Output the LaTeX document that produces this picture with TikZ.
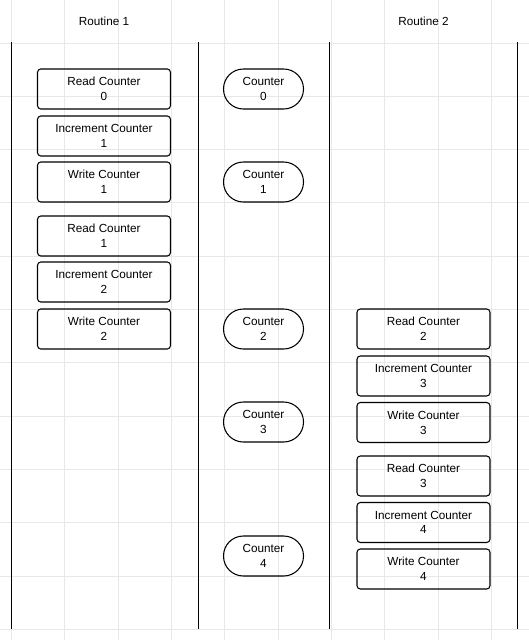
\documentclass[tikz,border=0pt]{standalone}
\usepackage{fontspec}
\setmainfont{Liberation Sans}
\usepackage{xcolor}
\usetikzlibrary{positioning}
\definecolor{gridgray}{HTML}{E8E8E8}
\tikzset{
  opbox/.style={draw, line width=0.8pt, rounded corners=2.5pt, align=center,
    minimum width=99.75pt, minimum height=30pt, inner sep=0pt,
    font=\fontsize{8.8}{11}\selectfont},
  valpill/.style={draw, line width=0.8pt, rounded corners=14.9pt, align=center,
    minimum width=60pt, minimum height=30pt, inner sep=0pt,
    font=\fontsize{8.8}{11}\selectfont},
  lane/.style={line width=1pt}
}
\begin{document}
\begin{tikzpicture}[x=0.75pt, y=-0.75pt]
			\useasboundingbox[fill=white] (0,0) rectangle (529,640);
			% grid
			\foreach \gx in {0,...,9}
				\draw[gridgray, line width=0.75pt] ({11.5+53.33*\gx},0) -- ({11.5+53.33*\gx},640);
			\foreach \gy in {0,...,11}
				\draw[gridgray, line width=0.75pt] (0,{43+53.33*\gy}) -- (529,{43+53.33*\gy});
			% lanes
			\coordinate (l1top) at (11.5,42);   \coordinate (l1bot) at (11.5,629);
			\coordinate (l2top) at (198.5,42);  \coordinate (l2bot) at (198.5,629);
			\coordinate (l3top) at (329.5,42);  \coordinate (l3bot) at (329.5,629);
			\coordinate (l4top) at (517.5,42);  \coordinate (l4bot) at (517.5,629);
			\draw[lane] (l1top) -- (l1bot);
			\draw[lane] (l2top) -- (l2bot);
			\draw[lane] (l3top) -- (l3bot);
			\draw[lane] (l4top) -- (l4bot);
			% titles
			\node[font=\fontsize{8.8}{11}\selectfont] (title1) at (104,21) {Routine 1};
			\node[font=\fontsize{8.8}{11}\selectfont] (title2) at (423.5,21) {Routine 2};
			% routine 1
			\node[opbox] (r1read0) at (104,89) {Read Counter\\0};
			\node[opbox] (r1inc1) at (104,136) {Increment Counter\\1};
			\node[opbox] (r1write1) at (104,182) {Write Counter\\1};
			\node[opbox] (r1read1) at (104,236) {Read Counter\\1};
			\node[opbox] (r1inc2) at (104,282) {Increment Counter\\2};
			\node[opbox] (r1write2) at (104,329) {Write Counter\\2};
			% counter
			\node[valpill] (cnt0) at (263.5,89) {Counter\\0};
			\node[valpill] (cnt1) at (263.5,182) {Counter\\1};
			\node[valpill] (cnt2) at (263.5,329) {Counter\\2};
			\node[valpill] (cnt3) at (263.5,422) {Counter\\3};
			\node[valpill] (cnt4) at (263.5,556) {Counter\\4};
			% routine 2
			\node[opbox] (r2read2) at (423.5,329) {Read Counter\\2};
			\node[opbox] (r2inc3) at (423.5,376) {Increment Counter\\3};
			\node[opbox] (r2write3) at (423.5,422.5) {Write Counter\\3};
			\node[opbox] (r2read3) at (423.5,476) {Read Counter\\3};
			\node[opbox] (r2inc4) at (423.5,522.5) {Increment Counter\\4};
			\node[opbox] (r2write4) at (423.5,569) {Write Counter\\4};
		\end{tikzpicture}
\end{document}
